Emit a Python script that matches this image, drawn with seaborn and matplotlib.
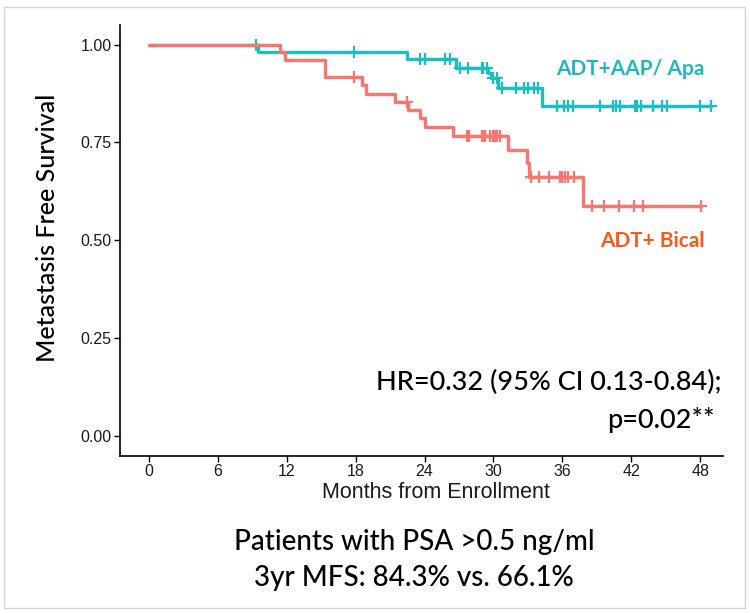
import numpy as np
import pandas as pd
import matplotlib
matplotlib.use("Agg")
import matplotlib.pyplot as plt
from matplotlib.patches import Rectangle
import seaborn as sns

# Kaplan-Meier steps (months, survival after the drop)
apa_times = [9.5, 22.5, 26.7, 29.5, 29.8, 30.4, 34.2]
apa_surv = [0.981, 0.963, 0.941, 0.927, 0.914, 0.888, 0.843]
apa_censor = [9.3, 17.9, 23.6, 24.0, 25.8, 26.2, 27.1, 27.8, 29.0, 29.1, 29.4,
              30.0, 30.3, 30.7, 32.0, 32.7, 33.0, 33.5, 33.9, 35.5, 36.1, 36.5,
              36.9, 39.3, 40.4, 40.7, 41.0, 42.3, 42.5, 42.8, 43.9, 44.7, 45.1,
              48.0, 48.9]

bical_times = [11.4, 11.9, 15.3, 18.6, 18.9, 21.4, 22.6, 23.6, 24.0, 26.5,
               31.3, 32.9, 33.1, 37.8]
bical_surv = [0.981, 0.961, 0.918, 0.897, 0.874, 0.854, 0.833, 0.811, 0.790,
              0.767, 0.731, 0.697, 0.661, 0.587]
bical_censor = [17.9, 22.5, 27.7, 27.9, 29.0, 29.1, 29.3, 29.7, 30.0, 30.1,
                30.3, 30.6, 33.3, 34.0, 34.8, 35.8, 36.0, 36.2, 36.5, 37.0,
                38.6, 39.6, 40.9, 42.2, 43.0, 48.1]

groups = ["ADT+AAP/ Apa", "ADT+ Bical"]
line_colors = {"ADT+AAP/ Apa": "#1BBFC3", "ADT+ Bical": "#F8766D"}
label_colors = {"ADT+AAP/ Apa": "#1DB8BE", "ADT+ Bical": "#FF5515"}
x_ticks = [0, 6, 12, 18, 24, 30, 36, 42, 48]
y_ticks = [0.0, 0.25, 0.5, 0.75, 1.0]


def km_frame(name, times, surv, censor):
    # step curve from time 0 up to the last follow-up
    end = max(censor[-1], times[-1])
    t = [0.0] + list(times) + [end]
    s = [1.0] + list(surv) + [surv[-1]]
    curve = pd.DataFrame({"time": t, "surv": s, "group": name})
    # survival level at each censor time
    idx = np.searchsorted(times, censor, side="right")
    lvl = np.array([1.0] + list(surv))[idx]
    cens = pd.DataFrame({"time": censor, "surv": lvl, "group": name})
    return curve, cens


c1, m1 = km_frame(groups[0], apa_times, apa_surv, apa_censor)
c2, m2 = km_frame(groups[1], bical_times, bical_surv, bical_censor)
curves = pd.concat([c1, c2], ignore_index=True)
marks = pd.concat([m1, m2], ignore_index=True)

sns.set_style("white")
plt.rcParams["font.family"] = ["Liberation Sans", "DejaVu Sans"]

fig = plt.figure(figsize=(7.5, 6.14), dpi=100)
ax = fig.add_axes([0.16, 0.2573, 0.8044, 0.702])

for g in groups:
    sub = curves[curves["group"] == g]
    sns.lineplot(data=sub, x="time", y="surv", color=line_colors[g],
                 drawstyle="steps-post", estimator=None, sort=False,
                 linewidth=2.4, ax=ax, legend=False)
    sm = marks[marks["group"] == g]
    sns.scatterplot(data=sm, x="time", y="surv", color=line_colors[g],
                    marker="+", s=70, linewidth=1.6, ax=ax, legend=False)

ax.set_xlim(-2.5, 50.0)
ax.set_ylim(-0.052, 1.05)
ax.set_xticks(x_ticks)
ax.set_yticks(y_ticks)
ax.set_yticklabels([f"{v:.2f}" for v in y_ticks])
ax.tick_params(axis="both", direction="out", length=4, width=1,
               color="black", labelsize=11.5, labelcolor="#1a1a1a", pad=2,
               left=True, bottom=True)
for side in ["top", "right"]:
    ax.spines[side].set_visible(False)
for side in ["left", "bottom"]:
    ax.spines[side].set_color("black")
    ax.spines[side].set_linewidth(1.2)
ax.set_xlabel("")
ax.set_ylabel("")

txt = dict(family="Lato", fontweight="medium", color="black")

# group labels
ax.text(48.4, 0.937, groups[0], color=label_colors[groups[0]], ha="right",
        va="center", fontsize=15, fontweight="bold", family="Lato")
ax.text(48.4, 0.497, groups[1], color=label_colors[groups[1]], ha="right",
        va="center", fontsize=15, fontweight="bold", family="Lato")

# HR annotation
fig.text(722 / 750, 1 - 382 / 614, "HR=0.32 (95% CI 0.13-0.84);", ha="right",
         va="center", fontsize=19.5, **txt)
fig.text(715 / 750, 1 - 420 / 614, "p=0.02**", ha="right",
         va="center", fontsize=19.5, **txt)

fig.text(48 / 750, 1 - 228 / 614, "Metastasis Free Survival", rotation=90,
         ha="center", va="center", fontsize=18, **txt)
fig.text(436 / 750, 1 - 492 / 614, "Months from Enrollment", ha="center",
         va="center", fontsize=15.5, color="#1a1a1a")

fig.text(414 / 750, 1 - 542 / 614, "Patients with PSA >0.5 ng/ml",
         ha="center", va="center", fontsize=20, **txt)
fig.text(414 / 750, 1 - 578 / 614, "3yr MFS: 84.3% vs. 66.1%",
         ha="center", va="center", fontsize=20, **txt)

# light frame around the slide image
fig.patches.append(Rectangle((4 / 750, 1 - 608 / 614), 741 / 750, 601 / 614,
                             transform=fig.transFigure, fill=False,
                             edgecolor="#d6d6d6", linewidth=1))

fig.savefig("out.png", dpi=100)
